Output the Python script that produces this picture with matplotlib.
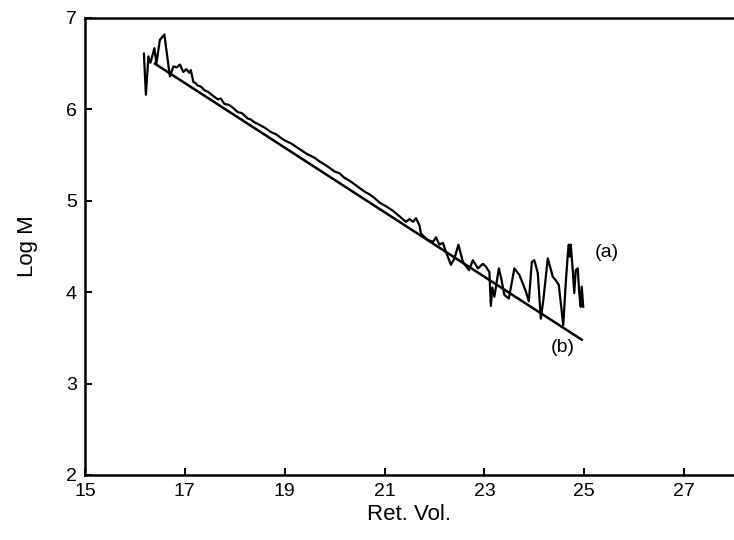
import matplotlib.pyplot as plt

# curve (a): measured log M vs retention volume
ret_vol_a = [16.18, 16.22, 16.27, 16.31, 16.39, 16.43, 16.50, 16.59, 16.70, 16.77,
             16.84, 16.90, 16.97, 17.03, 17.09, 17.12, 17.17, 17.21, 17.26, 17.32,
             17.39, 17.47, 17.56, 17.66, 17.72, 17.79, 17.88, 17.96, 18.06, 18.14,
             18.26, 18.32, 18.39, 18.50, 18.60, 18.73, 18.82, 18.92, 19.00, 19.12,
             19.23, 19.34, 19.45, 19.53, 19.60, 19.70, 19.82, 19.90, 20.00, 20.10,
             20.20, 20.30, 20.40, 20.50, 20.60, 20.70, 20.80, 20.90, 21.03, 21.17,
             21.30, 21.43, 21.50, 21.57, 21.63, 21.70, 21.73, 21.87, 21.97, 22.03,
             22.10, 22.17, 22.23, 22.33, 22.40, 22.48, 22.57, 22.69, 22.77, 22.87,
             22.97, 23.03, 23.10, 23.13, 23.16, 23.20, 23.29, 23.33, 23.40, 23.49,
             23.60, 23.70, 23.83, 23.89, 23.95, 24.00, 24.07, 24.13, 24.18, 24.27,
             24.37, 24.43, 24.49, 24.58, 24.63, 24.67, 24.69, 24.71, 24.73, 24.77,
             24.80, 24.83, 24.87, 24.90, 24.93, 24.95, 24.98]
log_m_a = [6.61, 6.16, 6.58, 6.51, 6.67, 6.50, 6.76, 6.82, 6.36, 6.47,
           6.46, 6.49, 6.41, 6.44, 6.40, 6.43, 6.30, 6.29, 6.26, 6.25,
           6.21, 6.19, 6.15, 6.11, 6.12, 6.06, 6.05, 6.02, 5.97, 5.96,
           5.90, 5.89, 5.86, 5.83, 5.80, 5.75, 5.73, 5.69, 5.66, 5.63,
           5.59, 5.55, 5.51, 5.49, 5.47, 5.43, 5.39, 5.36, 5.32, 5.30,
           5.25, 5.22, 5.18, 5.14, 5.10, 5.07, 5.03, 4.98, 4.94, 4.89,
           4.83, 4.77, 4.80, 4.77, 4.81, 4.73, 4.64, 4.57, 4.55, 4.60,
           4.52, 4.54, 4.44, 4.30, 4.37, 4.52, 4.33, 4.24, 4.35, 4.26,
           4.31, 4.28, 4.22, 3.85, 4.05, 3.95, 4.26, 4.17, 3.97, 3.93,
           4.26, 4.19, 4.01, 3.90, 4.33, 4.35, 4.21, 3.71, 3.91, 4.37,
           4.17, 4.13, 4.08, 3.64, 4.10, 4.41, 4.52, 4.39, 4.52, 4.24,
           3.99, 4.24, 4.26, 3.99, 3.84, 4.06, 3.84]

# line (b): calibration line
ret_vol_b = [16.40, 24.95]
log_m_b = [6.50, 3.48]

x_ticks = [15, 17, 19, 21, 23, 25, 27]
y_ticks = [2, 3, 4, 5, 6, 7]

plt.rcParams['font.family'] = ['Liberation Sans', 'DejaVu Sans']

fig = plt.figure(figsize=(7.34, 5.4), dpi=100)
ax = fig.add_axes([0.1158, 0.1204, 0.8842, 0.8463])

ax.plot(ret_vol_a, log_m_a, color='black', lw=1.6)
ax.plot(ret_vol_b, log_m_b, color='black', lw=1.8)

ax.text(25.45, 4.43, '(a)', fontsize=14, ha='center', va='center')
ax.text(24.56, 3.39, '(b)', fontsize=14, ha='center', va='center')

ax.set_xlim(15, 28)
ax.set_ylim(2, 7)
ax.set_xticks(x_ticks)
ax.set_yticks(y_ticks)
ax.tick_params(direction='in', length=5, width=1.4, labelsize=14, pad=6)

for side in ['left', 'bottom', 'top']:
    ax.spines[side].set_linewidth(1.8)
ax.spines['right'].set_visible(False)

ax.set_xlabel('Ret. Vol.', fontsize=16, labelpad=3)
ax.set_ylabel('Log M', fontsize=16, labelpad=20)

plt.savefig('out.png', dpi=100)
